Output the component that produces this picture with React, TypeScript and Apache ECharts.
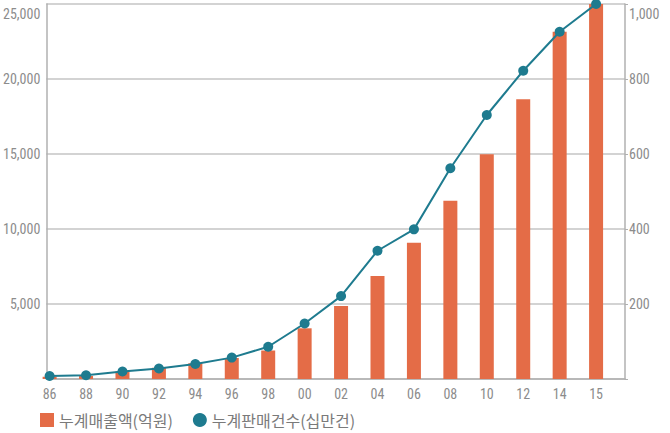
import React, { useEffect, useRef } from "react";
import * as echarts from "echarts";

const years = ["86", "88", "90", "92", "94", "96", "98", "00", "02", "04", "06", "08", "10", "12", "14", "15"];
const salesAmount = [150, 200, 500, 750, 1050, 1400, 1900, 3380, 4870, 6870, 9090, 11890, 14980, 18650, 23150, 25000];
const salesCount = [8, 10, 20, 28, 40, 57, 86, 148, 221, 342, 399, 562, 704, 822, 926, 1000];
const leftTicks = { min: 0, max: 25000, interval: 5000 };
const rightTicks = { min: 0, max: 1000, interval: 200 };

const barName = "누계매출액(억원)";
const lineName = "누계판매건수(십만건)";

const numFont = '"Roboto Condensed", "DejaVu Sans Condensed", sans-serif';
const krFont = '"Noto Sans CJK KR", "Noto Sans", sans-serif';

export default function App() {
  const ref = useRef<HTMLDivElement>(null);
  useEffect(() => {
    if (!ref.current) return;
    const chart = echarts.init(ref.current, undefined, { renderer: "svg" });
    const fmt = (max: number) => (v: number) => {
      if (v === 0) return "";
      const s = v.toLocaleString("en-US");
      return v === max ? "{t|" + s + "}" : s;
    };
    const labelBase = { color: "#8c8c8c", fontFamily: numFont, fontSize: 14 };
    chart.setOption({
      animation: false,
      grid: [
        { left: 37, right: 45, top: 4, bottom: 54 },
        { left: 31.4, right: 55.7, top: 4, bottom: 54 },
      ],
      legend: {
        left: 35,
        top: 407,
        itemWidth: 14,
        itemHeight: 14,
        itemGap: 20,
        textStyle: { fontSize: 16, lineHeight: 16, color: "#7a7a7a", fontFamily: krFont },
        data: [
          { name: barName, icon: "rect" },
          { name: lineName, icon: "circle" },
        ],
      },
      xAxis: [
        {
          type: "value",
          gridIndex: 0,
          min: 0,
          max: 1,
          axisLine: { show: true, lineStyle: { color: "#b0b0b0", width: 1.5 } },
          axisTick: { show: false },
          axisLabel: { show: false },
          splitLine: { show: false },
        },
        {
          type: "category",
          gridIndex: 1,
          data: years,
          axisLine: { show: false },
          axisTick: { show: false },
          axisLabel: { ...labelBase, margin: 8 },
        },
      ],
      yAxis: [
        {
          type: "value",
          gridIndex: 0,
          position: "left",
          ...leftTicks,
          axisLine: { show: true, lineStyle: { color: "#b0b0b0", width: 1.5 } },
          axisTick: { show: false },
          splitLine: { show: true, lineStyle: { color: "#c4c4c4", width: 1.5 } },
          axisLabel: {
            ...labelBase,
            margin: 6,
            formatter: fmt(leftTicks.max),
            rich: { t: { ...labelBase, padding: [19, 0, 0, 0] } },
          },
        },
        {
          type: "value",
          gridIndex: 0,
          position: "right",
          ...rightTicks,
          axisLine: { show: true, lineStyle: { color: "#b0b0b0", width: 1.5 } },
          axisTick: { show: true, length: 3, lineStyle: { color: "#b0b0b0" } },
          splitLine: { show: false },
          axisLabel: {
            ...labelBase,
            margin: 4,
            formatter: fmt(rightTicks.max),
            rich: { t: { ...labelBase, padding: [19, 0, 0, 0] } },
          },
        },
        { type: "value", gridIndex: 1, ...leftTicks, show: false },
        { type: "value", gridIndex: 1, ...rightTicks, show: false },
      ],
      series: [
        {
          name: barName,
          type: "bar",
          xAxisIndex: 1,
          yAxisIndex: 2,
          data: salesAmount,
          barWidth: 14,
          itemStyle: { color: "#e46c47" },
        },
        {
          name: lineName,
          type: "line",
          xAxisIndex: 1,
          yAxisIndex: 3,
          data: salesCount,
          symbol: "circle",
          symbolSize: 10,
          itemStyle: { color: "#1e7b8f" },
          lineStyle: { color: "#1e7b8f", width: 2 },
          z: 5,
        },
      ],
    });
    return () => chart.dispose();
  }, []);
  return (
    <div
      ref={ref}
      style={{ position: "fixed", left: 0, top: 0, width: 670, height: 433, background: "#fff" }}
    />
  );
}
